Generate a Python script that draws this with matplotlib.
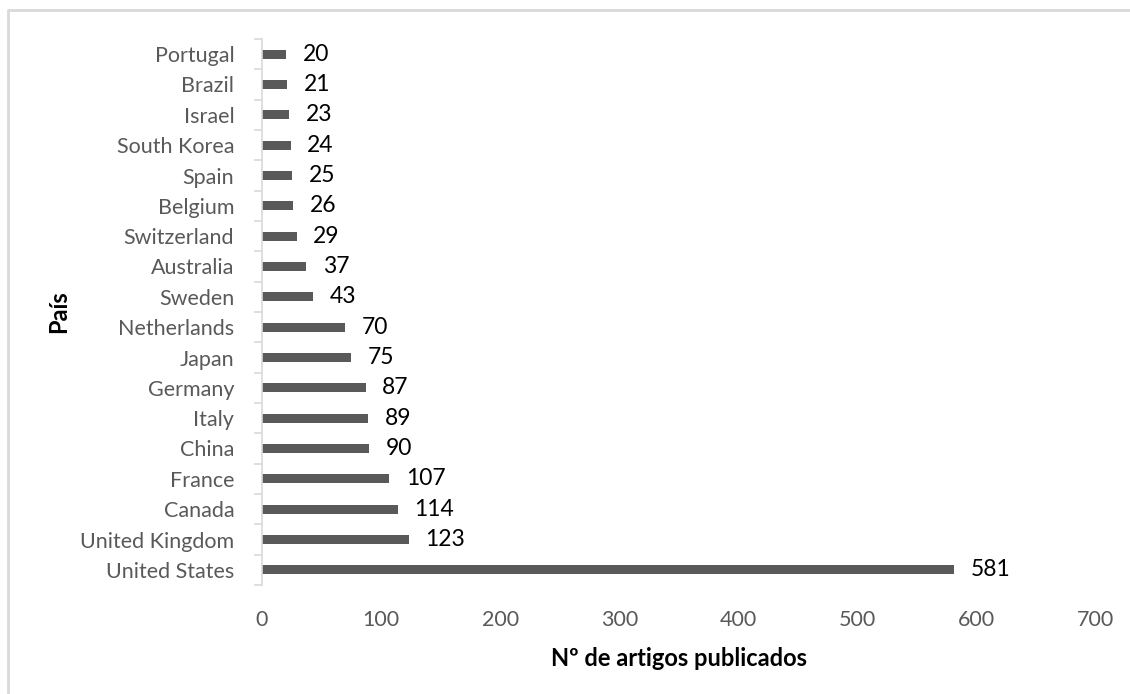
import matplotlib.pyplot as plt
from matplotlib.lines import Line2D
import numpy as np

# Artigos publicados por país
paises = ['United States', 'United Kingdom', 'Canada', 'France', 'China', 'Italy',
          'Germany', 'Japan', 'Netherlands', 'Sweden', 'Australia', 'Switzerland',
          'Belgium', 'Spain', 'South Korea', 'Israel', 'Brazil', 'Portugal']
artigos = [581, 123, 114, 107, 90, 89, 87, 75, 70, 43, 37, 29, 26, 25, 24, 23, 21, 20]
xticks = [0, 100, 200, 300, 400, 500, 600, 700]

plt.rcParams['font.family'] = ['Lato', 'DejaVu Sans']
cinza = '#595959'

fig = plt.figure(figsize=(11.3, 6.94), dpi=100)
ax = fig.add_axes([262 / 1130, 109 / 694, 834 / 1130, 546 / 694])

# moldura do gráfico (só esquerda e topo aparecem)
x0, y0 = 8 / 1130, 1 - 10 / 694
fig.add_artist(Line2D([x0, x0, 1.0], [0.0, y0, y0], transform=fig.transFigure,
                      color='#d9d9d9', linewidth=2))

y = np.arange(len(paises))
ax.barh(y, artigos, height=0.3, color=cinza)

for yi, v in zip(y, artigos):
    ax.annotate(str(v), (v, yi), xytext=(12, 0), textcoords='offset points',
                va='center', ha='left', fontsize=16.5, color='black')

ax.set_xlim(0, 700)
ax.set_ylim(-0.5, len(paises) - 0.5)
ax.set_xticks(xticks)
ax.set_yticks(y)
ax.set_yticklabels(paises)
ax.set_yticks(np.arange(-0.5, len(paises)), minor=True)

ax.tick_params(axis='x', length=0, labelsize=15.5, labelcolor=cinza, pad=18)
ax.tick_params(axis='y', which='major', length=0, labelsize=15.5, labelcolor=cinza, pad=20)
ax.tick_params(axis='y', which='minor', length=6, color='#d9d9d9', width=1.2)

for s in ['top', 'right', 'bottom']:
    ax.spines[s].set_visible(False)
ax.spines['left'].set_color('#d9d9d9')
ax.spines['left'].set_linewidth(1.2)

ax.set_xlabel('Nº de artigos publicados', fontsize=17, fontweight='bold', labelpad=12)
ax.set_ylabel('País', fontsize=17, fontweight='bold', labelpad=7)

fig.savefig('out.png', dpi=100)
